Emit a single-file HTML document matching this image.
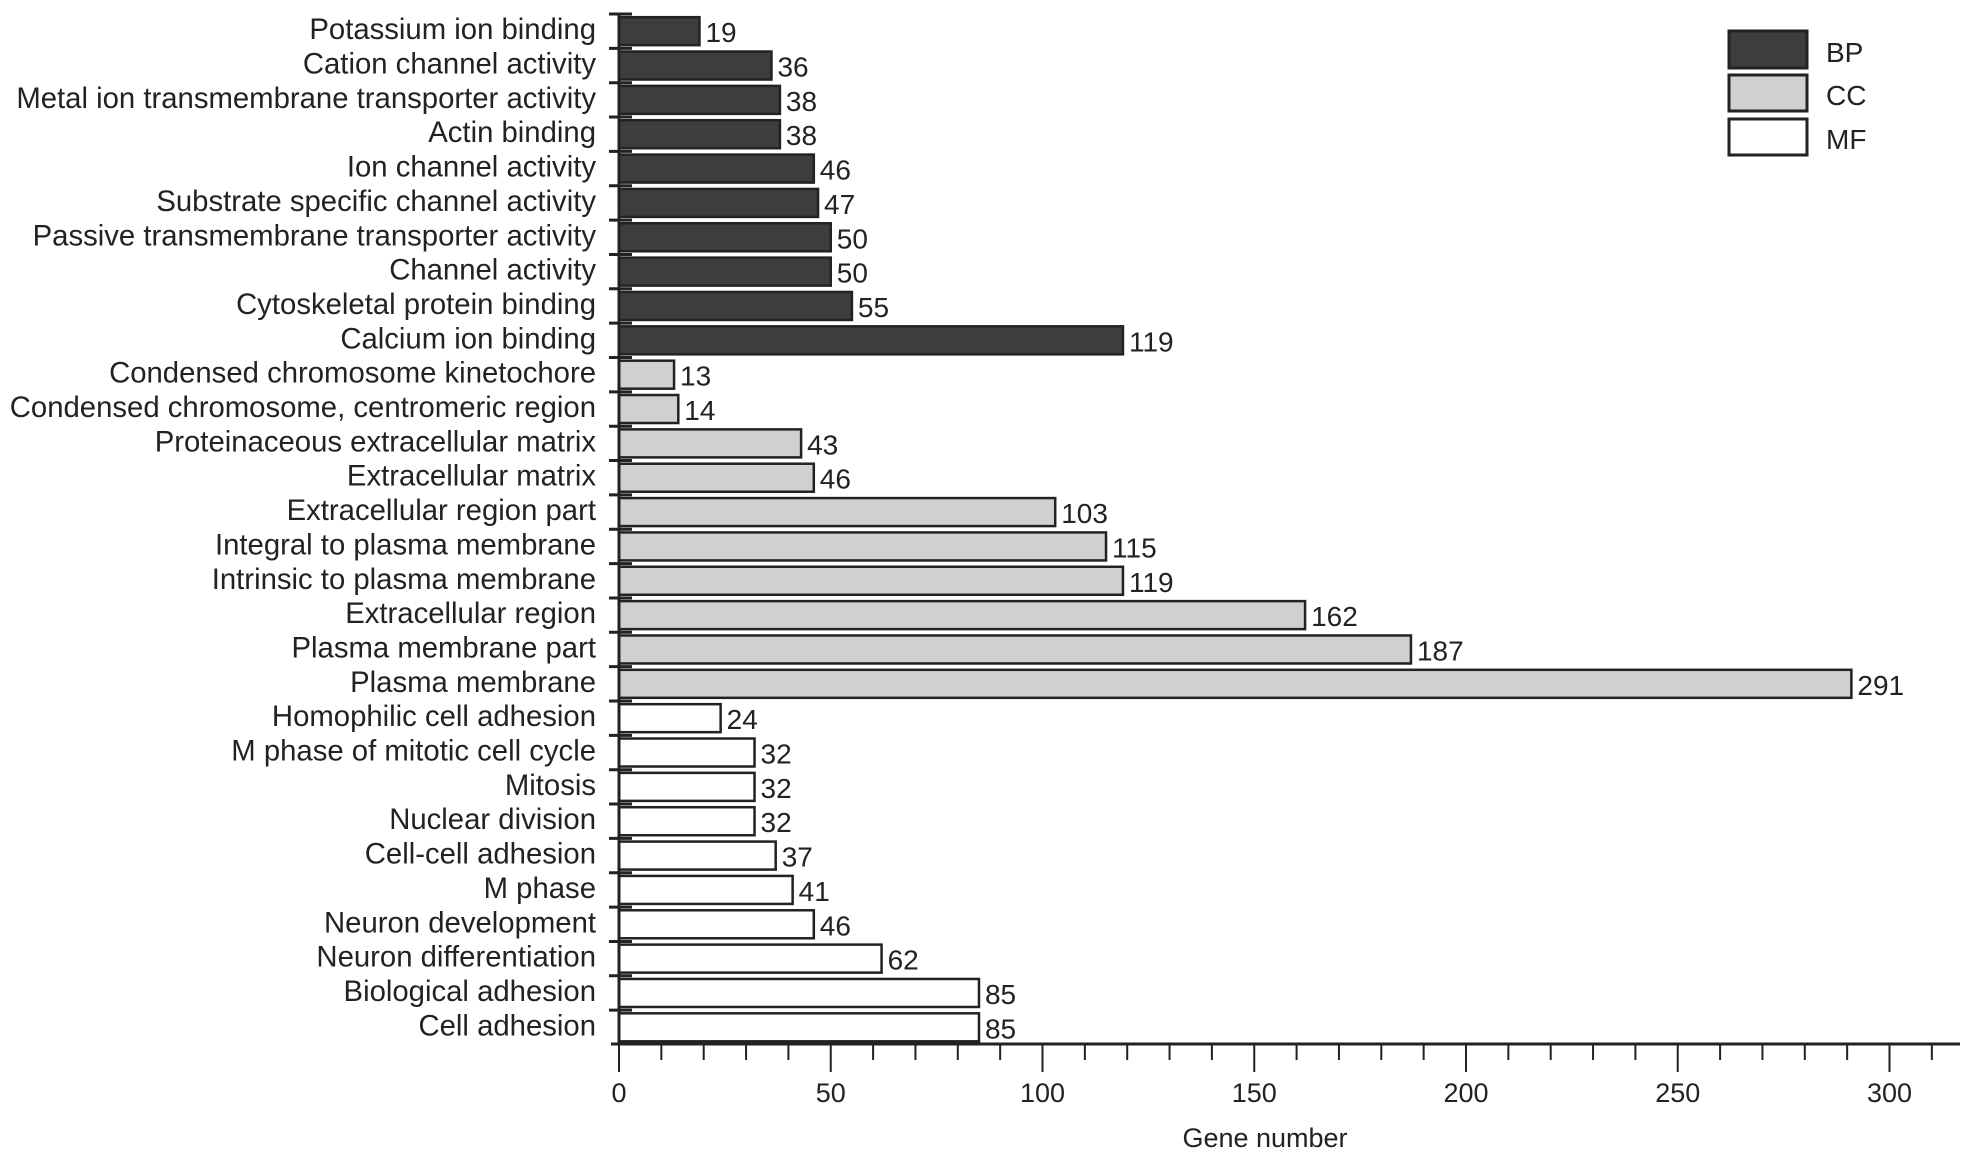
<!DOCTYPE html>
<html><head><meta charset="utf-8"><style>
html,body{margin:0;padding:0;background:#fff;}
svg text{font-family:"Liberation Sans",sans-serif;fill:#222;}
</style></head><body>
<svg id="chart" width="1961" height="1160" viewBox="0 0 1961 1160" xmlns="http://www.w3.org/2000/svg">
<g id="bars"></g>
<g id="yaxis"></g>
<g id="xaxis"></g>
<text x="1265" y="1147" font-size="27" text-anchor="middle">Gene number</text>
<g>
<rect x="1729" y="31" width="78" height="37" fill="#3d3d3d" stroke="#222" stroke-width="3"/>
<text x="1826" y="62" font-size="28">BP</text>
<rect x="1729" y="75" width="78" height="36" fill="#d0d0d0" stroke="#222" stroke-width="3"/>
<text x="1826" y="105" font-size="28">CC</text>
<rect x="1729" y="119" width="78" height="36" fill="#fff" stroke="#222" stroke-width="3"/>
<text x="1826" y="149" font-size="28">MF</text>
</g>
</svg>
<script>
const categories = ["Potassium ion binding","Cation channel activity","Metal ion transmembrane transporter activity","Actin binding","Ion channel activity","Substrate specific channel activity","Passive transmembrane transporter activity","Channel activity","Cytoskeletal protein binding","Calcium ion binding","Condensed chromosome kinetochore","Condensed chromosome, centromeric region","Proteinaceous extracellular matrix","Extracellular matrix","Extracellular region part","Integral to plasma membrane","Intrinsic to plasma membrane","Extracellular region","Plasma membrane part","Plasma membrane","Homophilic cell adhesion","M phase of mitotic cell cycle","Mitosis","Nuclear division","Cell-cell adhesion","M phase","Neuron development","Neuron differentiation","Biological adhesion","Cell adhesion"];
const values = [19,36,38,38,46,47,50,50,55,119,13,14,43,46,103,115,119,162,187,291,24,32,32,32,37,41,46,62,85,85];
const groups = ["BP","BP","BP","BP","BP","BP","BP","BP","BP","BP","CC","CC","CC","CC","CC","CC","CC","CC","CC","CC","MF","MF","MF","MF","MF","MF","MF","MF","MF","MF"];
const xTicks = [0,50,100,150,200,250,300];

const NS="http://www.w3.org/2000/svg";
const x0=619, pxPer=4.235, top0=14, pitch=34.35, barH=28, axisY=1044;
const xs=v=>x0+v*pxPer;
const yc=i=>top0+pitch*i+pitch/2;
const fills={BP:"#3d3d3d",CC:"#d0d0d0",MF:"#ffffff"};
function mk(tag,attrs,parent){const e=document.createElementNS(NS,tag);for(const k in attrs)e.setAttribute(k,attrs[k]);parent.appendChild(e);return e;}
const bars=document.getElementById('bars'), ya=document.getElementById('yaxis'), xa=document.getElementById('xaxis');
categories.forEach((c,i)=>{
  const r=mk('rect',{x:xs(0),y:yc(i)-barH/2,width:xs(values[i])-xs(0),height:barH,fill:fills[groups[i]],stroke:'#222','stroke-width':2.5},bars);
  
  
  const t=mk('text',{x:xs(values[i])+6,y:yc(i)+11,'font-size':28},bars);t.textContent=values[i];
  
  
  const l=mk('text',{x:596,y:yc(i)+8,'font-size':29.3,'text-anchor':'end'},ya);l.textContent=c;
  
  
  const tk=mk('line',{x1:609,x2:632,y1:top0+pitch*i,y2:top0+pitch*i,stroke:'#222','stroke-width':3},ya);
  
  
});
const yl=mk('line',{x1:x0,x2:x0,y1:top0,y2:axisY,stroke:'#222','stroke-width':3},ya);


const xl=mk('line',{x1:x0-8,x2:1960,y1:axisY,y2:axisY,stroke:'#222','stroke-width':3},xa);


for(let v=0;v<=310;v+=10){
  const major=v%50===0;
  const t=mk('line',{x1:xs(v),x2:xs(v),y1:axisY,y2:axisY+(major?28:16),stroke:'#222','stroke-width':2},xa);
  
  
}
xTicks.forEach(v=>{
  const t=mk('text',{x:xs(v),y:1102,'font-size':27,'text-anchor':'middle'},xa);t.textContent=v;
  
  
});
</script>
</body></html>
